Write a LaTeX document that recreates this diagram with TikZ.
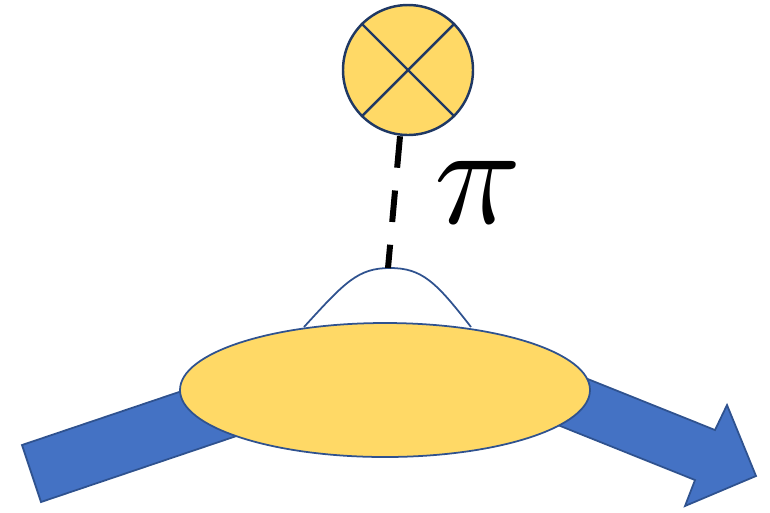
\documentclass[tikz,border=0pt]{standalone}
\usepackage{tikz}
\usetikzlibrary{positioning,calc}
\definecolor{softgold}{HTML}{FFD966}
\definecolor{bandblue}{HTML}{4472C4}
\definecolor{edgeblue}{HTML}{2F528F}
\definecolor{navyline}{HTML}{1F3864}

\begin{document}
\begin{tikzpicture}[
    x=0.02cm, y=-0.02cm,
    band/.style={fill=bandblue, draw=edgeblue, line width=1pt, line join=miter},
    vertex/.style={circle, fill=softgold, draw=navyline, line width=1.4pt,
        minimum size=130*0.02cm, inner sep=0pt},
    pion/.style={line width=3.4pt, dash pattern=on 18pt off 13pt}
]
\useasboundingbox (0,0) rectangle (770,512);

% incoming and outgoing bands
\draw[band] (22,445) -- (259,365) -- (278,422) -- (41,502) -- cycle;
\draw[band] (483,337) -- (715,430) -- (727,405) -- (756,476)
    -- (685,506) -- (695,480) -- (463,387) -- cycle;

% blob with the bump
\draw[fill=softgold, draw=edgeblue, line width=1pt]
    (385,390) ellipse [x radius=205, y radius=67];
\draw[edgeblue, line width=1pt]
    (304,327) .. controls (345,282) and (358,268) .. (390,268)
    .. controls (422,268) and (436,282) .. (471,327);
\coordinate (top) at (388,268);

% operator insertion
\node[vertex] (op) at (408,70) {};
\draw[navyline, line width=1.4pt] (op.north west) -- (op.south east)
    (op.north east) -- (op.south west);

% pion line
\draw[pion] (op.south) ++(-8,0) coordinate (opfoot) -- (top);
\node[scale=8.2] (pi) at (478,192) {$\pi$};
\end{tikzpicture}
\end{document}
